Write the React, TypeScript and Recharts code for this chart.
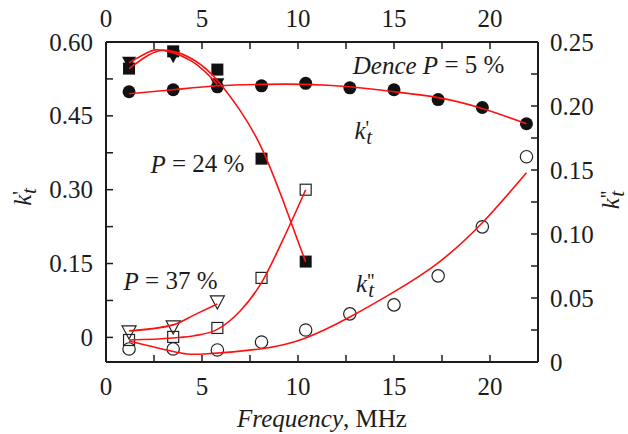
import React from "react";
import { ComposedChart, XAxis, YAxis, Scatter, Line, ReferenceDot, Label } from "recharts";

// measured points, x = frequency (MHz)
const freq = [1.2, 3.5, 5.8, 8.1, 10.4, 12.7, 15.0, 17.3, 19.6, 21.9];

// k't (left axis)
const denseK1 = [0.499, 0.503, 0.509, 0.511, 0.516, 0.507, 0.503, 0.483, 0.467, 0.434];
const p24K1 = [0.546, 0.581, 0.544, 0.363, 0.154];
const p37K1 = [0.558, 0.571, 0.514];

// k''t (right axis)
const denseK2 = [0.0102, 0.0102, 0.0094, 0.0156, 0.025, 0.0376, 0.0446, 0.0673, 0.1056, 0.1604];
const p24K2 = [0.0172, 0.0196, 0.0266, 0.0657, 0.1346];
const p37K2 = [0.0235, 0.0274, 0.0469];

// fitted curves
const denseFit1X = [1.2, 3.5, 5.8, 8.1, 10.4, 12.7, 15.0, 17.3, 19.6, 21.9];
const denseFit1 = [0.495, 0.503, 0.511, 0.514, 0.514, 0.509, 0.499, 0.487, 0.465, 0.434];
const p24Fit1X = [1.2, 2.2, 3.2, 4.6, 5.8, 7.0, 8.1, 9.2, 10.4];
const p24Fit1 = [0.546, 0.573, 0.583, 0.563, 0.522, 0.46, 0.385, 0.28, 0.153];
const p37Fit1X = [1.2, 2.2, 3.0, 4.5, 5.8];
const p37Fit1 = [0.558, 0.579, 0.583, 0.56, 0.514];
const denseFit2X = [1.2, 3.5, 5.1, 8.1, 10.4, 12.7, 15.0, 17.3, 19.6, 21.9];
const denseFit2 = [0.0164, 0.0082, 0.0062, 0.0104, 0.0188, 0.0352, 0.0548, 0.0775, 0.1088, 0.1479];
const p24Fit2X = [1.2, 3.5, 4.6, 5.8, 7.0, 8.1, 9.2, 10.4];
const p24Fit2 = [0.0172, 0.0188, 0.0205, 0.0255, 0.04, 0.062, 0.095, 0.1346];
const p37Fit2X = [1.2, 3.5, 4.6, 5.8];
const p37Fit2 = [0.0243, 0.029, 0.0368, 0.0454];

const xTicks = [0, 2.5, 5, 7.5, 10, 12.5, 15, 17.5, 20];
const leftTicks = [0, 0.075, 0.15, 0.225, 0.3, 0.375, 0.45, 0.525, 0.6];
const rightTicks = [0, 0.025, 0.05, 0.075, 0.1, 0.125, 0.15, 0.175, 0.2, 0.225, 0.25];

const FONT = "'Liberation Serif', 'Times New Roman', Times, 'DejaVu Serif', serif";
const FS = 25;
const INK = "#1c1c1c";
const RED = "#ff1010";
const TICK = 7;
const GAP = 12;

const txt = { style: { fontFamily: FONT }, fontSize: FS, fill: INK };

const pts = (xs: number[], ys: number[]) => ys.map((v, i) => ({ x: xs[i], y: v }));

const isMajor = (v: number, step: number) => Math.abs(v / step - Math.round(v / step)) < 1e-6;
const fmtY = (v: number) => (v === 0 ? "0" : v.toFixed(2));

function BottomTick(props: any) {
  const { x, y, payload } = props;
  const ay = y - GAP;
  return (
    <g>
      <line x1={x} x2={x} y1={ay} y2={ay - TICK} stroke={INK} strokeWidth={1.5} />
      {isMajor(payload.value, 5) && (
        <text x={x} y={ay + 24} textAnchor="middle" dominantBaseline="central" {...txt}>
          {payload.value}
        </text>
      )}
    </g>
  );
}

function TopTick(props: any) {
  const { x, y, payload } = props;
  const ay = y + GAP;
  return (
    <g>
      <line x1={x} x2={x} y1={ay} y2={ay + TICK} stroke={INK} strokeWidth={1.5} />
      {isMajor(payload.value, 5) && (
        <text x={x} y={ay - 24} textAnchor="middle" dominantBaseline="central" {...txt}>
          {payload.value}
        </text>
      )}
    </g>
  );
}

function LeftTick(props: any) {
  const { x, y, payload } = props;
  const ax = x + GAP;
  return (
    <g>
      <line x1={ax} x2={ax + TICK} y1={y} y2={y} stroke={INK} strokeWidth={1.5} />
      {isMajor(payload.value, 0.15) && (
        <text x={ax - 13} y={y} textAnchor="end" dominantBaseline="central" {...txt}>
          {fmtY(payload.value)}
        </text>
      )}
    </g>
  );
}

function RightTick(props: any) {
  const { x, y, payload } = props;
  const ax = x - GAP;
  return (
    <g>
      <line x1={ax} x2={ax - TICK} y1={y} y2={y} stroke={INK} strokeWidth={1.5} />
      {isMajor(payload.value, 0.05) && (
        <text x={ax + 12} y={y} textAnchor="start" dominantBaseline="central" {...txt}>
          {fmtY(payload.value)}
        </text>
      )}
    </g>
  );
}

function KSym({ x, y, primes, rotate }: { x: number; y: number; primes: 1 | 2; rotate?: boolean }) {
  const mark = primes === 2 ? "''" : "'";
  return (
    <text
      x={x}
      y={y}
      {...txt}
      textAnchor="middle"
      dominantBaseline="central"
      transform={rotate ? `rotate(-90 ${x} ${y})` : undefined}
    >
      <tspan fontStyle="italic">k</tspan>
      <tspan dy={-2} fontSize={FS * 0.8}>{mark}</tspan>
      <tspan fontStyle="italic" fontSize={FS * 0.85} dx={primes === 2 ? -6 : -3} dy={9}>
        t
      </tspan>
    </text>
  );
}

const FilledCircle = (p: any) => <circle cx={p.cx} cy={p.cy} r={6.5} fill="#111" />;
const FilledSquare = (p: any) => <rect x={p.cx - 6} y={p.cy - 6} width={12} height={12} fill="#111" />;
const FilledTri = (p: any) => (
  <polygon points={`${p.cx - 7},${p.cy - 6} ${p.cx + 7},${p.cy - 6} ${p.cx},${p.cy + 7}`} fill="#111" />
);
const OpenCircle = (p: any) => <circle cx={p.cx} cy={p.cy} r={6.2} fill="none" stroke="#222" strokeWidth={1.2} />;
const OpenSquare = (p: any) => (
  <rect x={p.cx - 5.5} y={p.cy - 5.5} width={11} height={11} fill="none" stroke="#222" strokeWidth={1.2} />
);
const OpenTri = (p: any) => (
  <polygon
    points={`${p.cx - 7},${p.cy - 6} ${p.cx + 7},${p.cy - 6} ${p.cx},${p.cy + 7}`}
    fill="none"
    stroke="#222"
    strokeWidth={1.2}
  />
);

// fits sit above the markers, as in the original figure
const fitLine = (key: string, axis: string, data: { x: number; y: number }[], curve: any = "natural") => (
  <Line
    key={key}
    yAxisId={axis}
    data={data}
    dataKey="y"
    type={curve}
    stroke={RED}
    strokeWidth={1.6}
    dot={false}
    activeDot={false}
    isAnimationActive={false}
    zIndex={700}
  />
);

function Anno({ cx, cy, lead, rest }: { cx: number; cy: number; lead: string; rest: string }) {
  return (
    <text x={cx} y={cy} textAnchor="middle" dominantBaseline="central" {...txt}>
      <tspan fontStyle="italic">{lead}</tspan>
      {rest}
    </text>
  );
}

export default function App() {
  return (
    <div style={{ width: 628, height: 434, fontFamily: FONT, background: "#fff" }}>
      <style>{"body{margin:0}"}</style>
      <ComposedChart width={628} height={434} margin={{ top: 0, right: 0, bottom: 0, left: 0 }}>
        <XAxis
          type="number"
          dataKey="x"
          domain={[0, 22.5]}
          ticks={xTicks}
          interval={0}
          height={72}
          tickSize={0}
          tickMargin={GAP}
          tick={BottomTick}
          axisLine={{ stroke: INK, strokeWidth: 2 }}
          allowDataOverflow
        >
          <Label
            content={(p: any) => {
              const vb = p.viewBox || { x: 106, y: 362, width: 432, height: 72 };
              return (
                <text x={vb.x + vb.width / 2} y={vb.y + 56} textAnchor="middle" dominantBaseline="central" {...txt}>
                  <tspan fontStyle="italic">Frequency</tspan>, MHz
                </text>
              );
            }}
          />
        </XAxis>
        <XAxis
          xAxisId="top"
          orientation="top"
          type="number"
          dataKey="x"
          domain={[0, 22.5]}
          ticks={xTicks}
          interval={0}
          height={42}
          tickSize={0}
          tickMargin={GAP}
          tick={TopTick}
          axisLine={{ stroke: INK, strokeWidth: 2 }}
          allowDataOverflow
        />
        <YAxis
          yAxisId="left"
          type="number"
          dataKey="y"
          domain={[-0.05, 0.6]}
          ticks={leftTicks}
          interval={0}
          width={106}
          tickSize={0}
          tickMargin={GAP}
          tick={LeftTick}
          axisLine={{ stroke: INK, strokeWidth: 2 }}
          allowDataOverflow
        >
          <Label
            content={(p: any) => {
              const vb = p.viewBox || { x: 0, y: 42, width: 106, height: 320 };
              return <KSym x={vb.x + 22} y={vb.y + 155} primes={1} rotate />;
            }}
          />
        </YAxis>
        <YAxis
          yAxisId="right"
          orientation="right"
          type="number"
          dataKey="y"
          domain={[0, 0.25]}
          ticks={rightTicks}
          interval={0}
          width={90}
          tickSize={0}
          tickMargin={GAP}
          tick={RightTick}
          axisLine={{ stroke: INK, strokeWidth: 2 }}
          allowDataOverflow
        >
          <Label
            content={(p: any) => {
              const vb = p.viewBox || { x: 538, y: 42, width: 90, height: 320 };
              return <KSym x={vb.x + 72} y={vb.y + 158} primes={2} rotate />;
            }}
          />
        </YAxis>

        <Scatter yAxisId="left" data={pts(freq, denseK1)} shape={FilledCircle} isAnimationActive={false} />
        <Scatter yAxisId="left" data={pts(freq, p24K1)} shape={FilledSquare} isAnimationActive={false} />
        <Scatter yAxisId="left" data={pts(freq, p37K1)} shape={FilledTri} isAnimationActive={false} />
        <Scatter yAxisId="right" data={pts(freq, denseK2)} shape={OpenCircle} isAnimationActive={false} />
        <Scatter yAxisId="right" data={pts(freq, p24K2)} shape={OpenSquare} isAnimationActive={false} />
        <Scatter yAxisId="right" data={pts(freq, p37K2)} shape={OpenTri} isAnimationActive={false} />

        {fitLine("d1", "left", pts(denseFit1X, denseFit1))}
        {fitLine("a1", "left", pts(p24Fit1X, p24Fit1))}
        {fitLine("b1", "left", pts(p37Fit1X, p37Fit1))}
        {fitLine("d2", "right", pts(denseFit2X, denseFit2))}
        {fitLine("a2", "right", pts(p24Fit2X, p24Fit2), "monotone")}
        {fitLine("b2", "right", pts(p37Fit2X, p37Fit2), "monotone")}

        <ReferenceDot
          yAxisId="left"
          x={16.8}
          y={0.554}
          r={0}
          shape={(p: any) => <Anno cx={p.cx} cy={p.cy} lead="Dence P" rest=" = 5 %" />}
        />
        <ReferenceDot yAxisId="left" x={13.4} y={0.422} r={0} shape={(p: any) => <KSym x={p.cx} y={p.cy} primes={1} />} />
        <ReferenceDot
          yAxisId="left"
          x={4.76}
          y={0.353}
          r={0}
          shape={(p: any) => <Anno cx={p.cx} cy={p.cy} lead="P" rest=" = 24 %" />}
        />
        <ReferenceDot
          yAxisId="left"
          x={3.36}
          y={0.115}
          r={0}
          shape={(p: any) => <Anno cx={p.cx} cy={p.cy} lead="P" rest=" = 37 %" />}
        />
        <ReferenceDot yAxisId="left" x={13.5} y={0.111} r={0} shape={(p: any) => <KSym x={p.cx} y={p.cy} primes={2} />} />
      </ComposedChart>
    </div>
  );
}
